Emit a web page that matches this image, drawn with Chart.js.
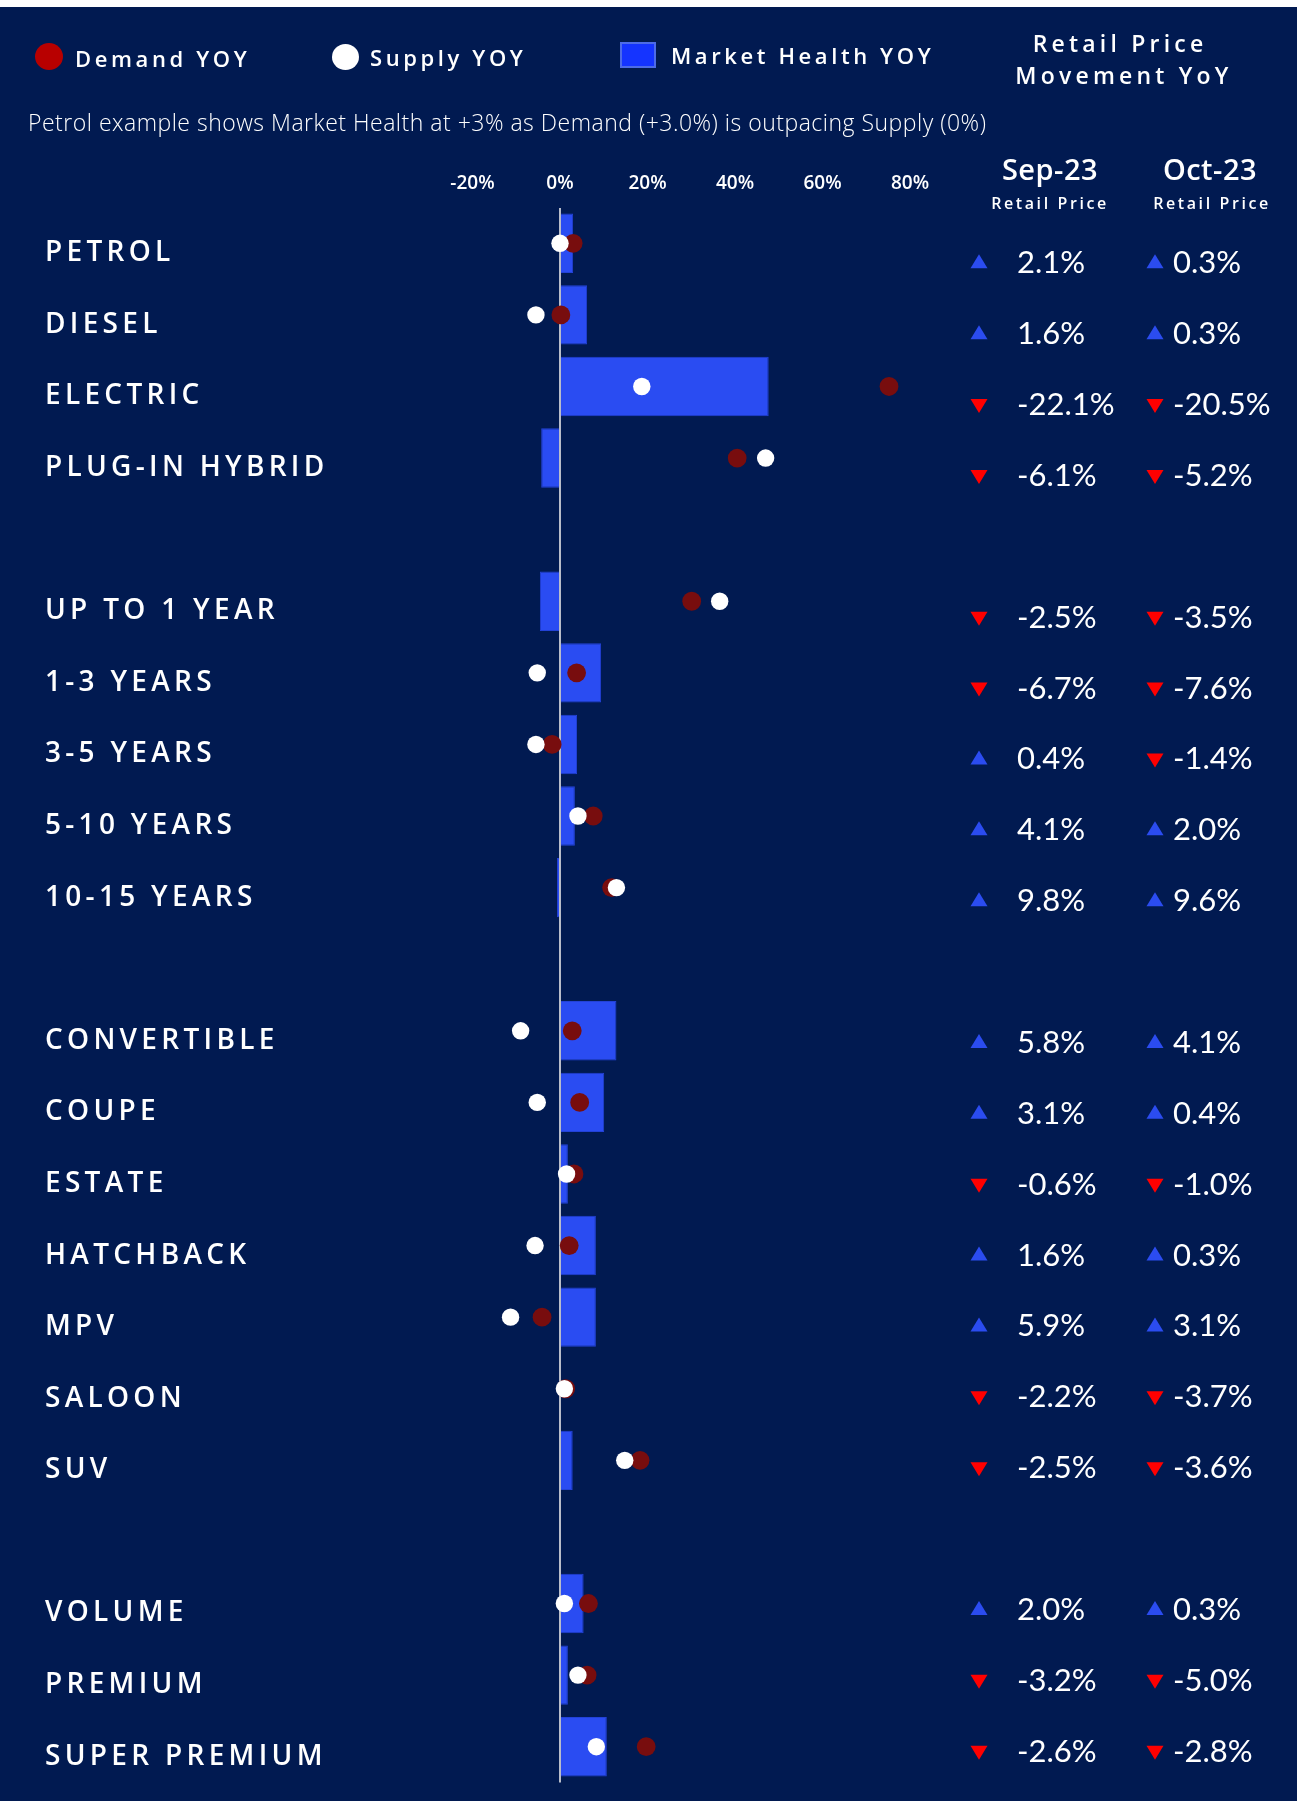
<!DOCTYPE html>
<html><head><meta charset="utf-8">
<script src="https://cdn.jsdelivr.net/npm/chart.js@4/dist/chart.umd.min.js"></script>
<style>
html,body{margin:0;padding:0;background:#fff;}
#wrap{position:relative;width:1302px;height:1801px;overflow:hidden;}
#bg{position:absolute;left:0;top:7px;width:1297px;height:1794px;background:#011a51;}
#cv{position:absolute;left:0;top:0;}
.t{position:absolute;color:#fff;white-space:nowrap;font-family:'Open Sans',sans-serif;}
.leg{font-size:22px;font-weight:600;letter-spacing:3.6px;line-height:30px;}
.hd{font-size:23px;font-weight:600;letter-spacing:4.2px;line-height:30px;}
.dot{position:absolute;border-radius:50%;}
</style></head>
<body>
<div id="wrap">
  <div id="bg"></div>
  <canvas id="cv" width="1302" height="1801"></canvas>
  <div class="dot" style="left:35px;top:43px;width:28px;height:27px;background:#b80000;"></div>
  <div class="t leg" style="left:75px;top:43px;">Demand YOY</div>
  <div class="dot" style="left:332px;top:44px;width:27px;height:26px;background:#fff;"></div>
  <div class="t leg" style="left:370px;top:42px;">Supply YOY</div>
  <div style="position:absolute;left:620px;top:42px;width:36px;height:26px;box-sizing:border-box;background:#1534ff;border:2px solid #4d6be8;"></div>
  <div class="t leg" style="left:671px;top:40px;">Market Health YOY</div>
  <div class="t hd" style="left:1000px;width:240px;text-align:center;top:28px;">Retail Price</div>
  <div class="t hd" style="left:1004px;width:240px;text-align:center;top:60px;">Movement YoY</div>
  <div class="t" style="left:28px;top:107px;font-size:23px;font-weight:300;line-height:30px;letter-spacing:0.5px;">Petrol example shows Market Health at +3% as Demand (+3.0%) is outpacing Supply (0%)</div>
  <div class="t" style="left:980px;width:140px;text-align:center;top:151px;font-size:29px;font-weight:600;letter-spacing:0.5px;line-height:36px;">Sep-23</div>
  <div class="t" style="left:1140px;width:140px;text-align:center;top:151px;font-size:29px;font-weight:600;letter-spacing:0.5px;line-height:36px;">Oct-23</div>
  <div class="t" style="left:970px;width:160px;text-align:center;top:192px;font-size:16px;font-weight:600;letter-spacing:2.6px;line-height:22px;">Retail Price</div>
  <div class="t" style="left:1132px;width:160px;text-align:center;top:192px;font-size:16px;font-weight:600;letter-spacing:2.6px;line-height:22px;">Retail Price</div>
</div>
<script>
const categories = ['PETROL','DIESEL','ELECTRIC','PLUG-IN HYBRID','',
  'UP TO 1 YEAR','1-3 YEARS','3-5 YEARS','5-10 YEARS','10-15 YEARS','',
  'CONVERTIBLE','COUPE','ESTATE','HATCHBACK','MPV','SALOON','SUV','',
  'VOLUME','PREMIUM','SUPER PREMIUM'];
const demandYoY = [3.0, 0.2, 75.2, 40.5, null,
  30.1, 3.8, -1.8, 7.6, 11.8, null,
  2.8, 4.5, 3.2, 2.1, -4.1, 1.3, 18.3, null,
  6.5, 6.2, 19.7];
const supplyYoY = [0.0, -5.5, 18.7, 47.0, null,
  36.5, -5.2, -5.5, 4.1, 12.9, null,
  -9.0, -5.2, 1.5, -5.7, -11.3, 1.0, 14.8, null,
  1.0, 4.1, 8.3];
const marketHealthYoY = [3.0, 6.2, 47.7, -4.3, null,
  -4.6, 9.4, 3.9, 3.4, -0.7, null,
  12.9, 10.1, 1.8, 8.2, 8.2, 0, 2.9, null,
  5.4, 1.8, 10.7];
const retailSep = [2.1, 1.6, -22.1, -6.1, null,
  -2.5, -6.7, 0.4, 4.1, 9.8, null,
  5.8, 3.1, -0.6, 1.6, 5.9, -2.2, -2.5, null,
  2.0, -3.2, -2.6];
const retailOct = [0.3, 0.3, -20.5, -5.2, null,
  -3.5, -7.6, -1.4, 2.0, 9.6, null,
  4.1, 0.4, -1.0, 0.3, 3.1, -3.7, -3.6, null,
  0.3, -5.0, -2.8];
const xTickValues = [-20, 0, 20, 40, 60, 80];

const overlay = {
  id: 'overlay',
  afterDraw(chart) {
    const ctx = chart.ctx, ys = chart.scales.y;
    ctx.save();
    ctx.fillStyle = '#fff';
    ctx.textBaseline = 'middle';
    ctx.textAlign = 'left';
    ctx.font = '600 28px "Open Sans"';
    ctx.letterSpacing = '4.3px';
    categories.forEach((c, i) => {
      if (!c) return;
      ctx.fillText(c, 45, ys.getPixelForValue(i) + 10);
    });
    ctx.letterSpacing = '0px';
    ctx.font = '400 31px Lato';
    [[retailSep, 1017, 979], [retailOct, 1173, 1155]].forEach(([arr, tx, mx]) => {
      arr.forEach((v, i) => {
        if (v === null) return;
        const cy = ys.getPixelForValue(i) + 20 - 0.714 * i;
        ctx.fillStyle = '#fff';
        ctx.fillText(v.toFixed(1) + '%', tx, cy);
        ctx.beginPath();
        if (v >= 0) {
          ctx.moveTo(mx - 8.5, cy + 5); ctx.lineTo(mx + 8.5, cy + 5); ctx.lineTo(mx, cy - 9);
          ctx.fillStyle = '#2b4cf0';
        } else {
          ctx.moveTo(mx - 8.5, cy - 6); ctx.lineTo(mx + 8.5, cy - 6); ctx.lineTo(mx, cy + 8);
          ctx.fillStyle = '#ff0000';
        }
        ctx.closePath();
        ctx.fill();
      });
    });
    ctx.restore();
  }
};

new Chart(document.getElementById('cv'), {
  type: 'bar',
  data: {
    labels: categories,
    datasets: [
      { type: 'line', label: 'Supply YOY', data: supplyYoY, indexAxis: 'y', showLine: false,
        pointRadius: 8.7, pointBackgroundColor: '#ffffff', pointBorderColor: '#ffffff', pointBorderWidth: 0, order: 0 },
      { type: 'line', label: 'Demand YOY', data: demandYoY, indexAxis: 'y', showLine: false,
        pointRadius: 9.4, pointBackgroundColor: '#780d0e', pointBorderColor: '#780d0e', pointBorderWidth: 0, order: 1 },
      { type: 'bar', label: 'Market Health YOY', data: marketHealthYoY, indexAxis: 'y',
        backgroundColor: '#2a4cf2', borderColor: '#2342d6', borderWidth: 1,
        barPercentage: 0.83, categoryPercentage: 1, order: 2 }
    ]
  },
  options: {
    indexAxis: 'y',
    responsive: false,
    animation: false,
    layout: { padding: { left: 45, right: 348.25, top: 167.5, bottom: 18.5 } },
    plugins: { legend: { display: false }, tooltip: { enabled: false } },
    scales: {
      x: {
        type: 'linear', position: 'top', min: -30, max: 90,
        afterBuildTicks: s => { s.ticks = xTickValues.map(v => ({ value: v })); },
        afterFit: s => { s.height = 40; },
        ticks: { color: '#fff', padding: 13, font: { family: 'Open Sans', size: 19, weight: '600' },
          callback: v => v + '%' },
        grid: { drawTicks: false, lineWidth: 2,
          color: c => (c.tick && c.tick.value === 0) ? '#b9bdc9' : 'rgba(0,0,0,0)' },
        border: { display: false }
      },
      y: {
        type: 'category',
        ticks: { display: false },
        grid: { display: false },
        border: { display: false },
        afterFit: s => { s.width = 383.75; }
      }
    }
  },
  plugins: [overlay]
});
</script>
</body></html>
